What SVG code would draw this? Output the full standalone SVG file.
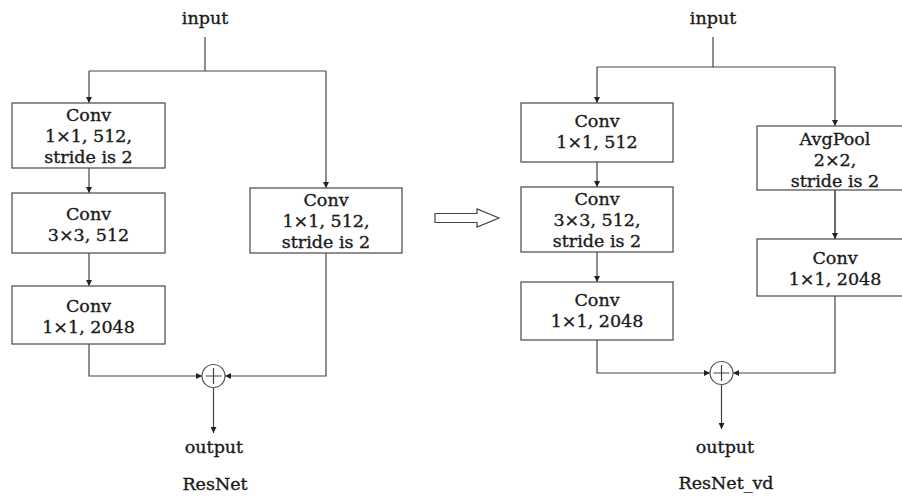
<svg xmlns="http://www.w3.org/2000/svg" width="902" height="496" viewBox="0 0 902 496">
<style>
.box{fill:#fff;stroke:#555;stroke-width:1.3}
.ln{fill:none;stroke:#444;stroke-width:1.2}
.t{font-family:"DejaVu Serif","Liberation Serif",serif;font-size:17.5px;fill:#1a1a1a;stroke:#1a1a1a;stroke-width:0.35;text-anchor:middle}
.sum{fill:#fff;stroke:#555;stroke-width:1.2}
</style>
<defs>
<marker id="ah" viewBox="0 0 10 10" refX="10" refY="5" markerWidth="6" markerHeight="6" markerUnits="userSpaceOnUse" orient="auto">
<path d="M0,0 L10,5 L0,10 Z" fill="#222"/>
</marker>
</defs>
<rect width="902" height="496" fill="#fff"/>

<g id="connectors">
<path class="ln" d="M205,37 V71"/>
<path class="ln" d="M89,71 H326"/>
<path class="ln" d="M89,71 V103" marker-end="url(#ah)"/>
<path class="ln" d="M326,71 V188" marker-end="url(#ah)"/>
<path class="ln" d="M89,168 V193" marker-end="url(#ah)"/>
<path class="ln" d="M89,253 V286" marker-end="url(#ah)"/>
<path class="ln" d="M89,344 V376 H202" marker-end="url(#ah)"/>
<path class="ln" d="M326,253 V376 H225" marker-end="url(#ah)"/>
<path class="ln" d="M213.5,388 V433" marker-end="url(#ah)"/>
<path class="ln" d="M713,37 V67"/>
<path class="ln" d="M597,67 H835"/>
<path class="ln" d="M597,67 V103" marker-end="url(#ah)"/>
<path class="ln" d="M835,67 V126" marker-end="url(#ah)"/>
<path class="ln" d="M597,162 V187" marker-end="url(#ah)"/>
<path class="ln" d="M597,252 V282" marker-end="url(#ah)"/>
<path class="ln" d="M835,190 V239" marker-end="url(#ah)" style="stroke-width:1.6"/>
<path class="ln" d="M597,340 V373 H710" marker-end="url(#ah)"/>
<path class="ln" d="M835,296 V373 H733" marker-end="url(#ah)"/>
<path class="ln" d="M721.5,385 V429" marker-end="url(#ah)"/>
<path d="M435,213.5 H477 V209 L499,218 L477,227 V222.5 H435 Z" fill="#fff" stroke="#444" stroke-width="1.2"/>
</g>

<g id="input-left"><text class="t" x="205" y="24">input</text></g>
<g id="conv1-left">
<rect class="box" x="12" y="103" width="153" height="65"/>
<text class="t" x="88.5" y="121">Conv</text>
<text class="t" x="88.5" y="142">1×1, 512,</text>
<text class="t" x="88.5" y="163">stride is 2</text>
</g>
<g id="conv2-left">
<rect class="box" x="12" y="193" width="153" height="60"/>
<text class="t" x="88.5" y="220">Conv</text>
<text class="t" x="88.5" y="241">3×3, 512</text>
</g>
<g id="conv3-left">
<rect class="box" x="12" y="286" width="153" height="58"/>
<text class="t" x="88.5" y="312">Conv</text>
<text class="t" x="88.5" y="333">1×1, 2048</text>
</g>
<g id="shortcut-left">
<rect class="box" x="250" y="188" width="152" height="65"/>
<text class="t" x="326" y="206">Conv</text>
<text class="t" x="326" y="227">1×1, 512,</text>
<text class="t" x="326" y="248">stride is 2</text>
</g>
<g id="sum-left">
<circle class="sum" cx="213.5" cy="376" r="11.5"/>
<path class="ln" d="M213.5,368 V384 M205.5,376 H221.5"/>
</g>
<g id="output-left"><text class="t" x="214" y="453">output</text></g>
<g id="title-left"><text class="t" x="215" y="490">ResNet</text></g>

<g id="input-right"><text class="t" x="713" y="24">input</text></g>
<g id="conv1-right">
<rect class="box" x="521" y="103" width="152" height="59"/>
<text class="t" x="597" y="127">Conv</text>
<text class="t" x="597" y="148">1×1, 512</text>
</g>
<g id="conv2-right">
<rect class="box" x="521" y="187" width="152" height="65"/>
<text class="t" x="597" y="205">Conv</text>
<text class="t" x="597" y="226">3×3, 512,</text>
<text class="t" x="597" y="247">stride is 2</text>
</g>
<g id="conv3-right">
<rect class="box" x="521" y="282" width="152" height="58"/>
<text class="t" x="597" y="306">Conv</text>
<text class="t" x="597" y="327">1×1, 2048</text>
</g>
<g id="avgpool-right">
<rect class="box" x="757" y="126" width="155" height="64"/>
<text class="t" x="835" y="145">AvgPool</text>
<text class="t" x="835" y="166">2×2,</text>
<text class="t" x="835" y="187">stride is 2</text>
</g>
<g id="conv4-right">
<rect class="box" x="757" y="239" width="155" height="57"/>
<text class="t" x="835" y="264">Conv</text>
<text class="t" x="835" y="285">1×1, 2048</text>
</g>
<g id="sum-right">
<circle class="sum" cx="721.5" cy="373" r="11.5"/>
<path class="ln" d="M721.5,365 V381 M713.5,373 H729.5"/>
</g>
<g id="output-right"><text class="t" x="725" y="453">output</text></g>
<g id="title-right"><text class="t" x="726" y="489">ResNet_vd</text></g>
</svg>
